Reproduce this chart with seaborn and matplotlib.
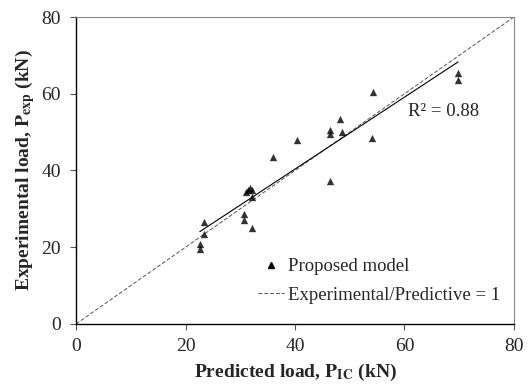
import numpy as np
import pandas as pd
import matplotlib
matplotlib.use("Agg")
import matplotlib.pyplot as plt
import seaborn as sns
from matplotlib.lines import Line2D

sns.set_style("white")
plt.rcParams['font.family'] = ['Liberation Serif', 'DejaVu Serif']
plt.rcParams['mathtext.fontset'] = 'stix'

predicted = [22.6, 22.6, 23.4, 23.4, 31.0, 31.5, 31.8, 32.1, 32.1, 30.7, 30.7, 32.1,
             36.0, 40.4, 46.4, 46.4, 46.4, 48.2, 48.6, 54.0, 54.2, 69.8, 69.8]
experimental = [20.8, 19.6, 26.6, 23.4, 34.4, 35.0, 35.4, 34.8, 33.0, 28.6, 27.1, 24.9,
                43.4, 47.9, 50.6, 49.6, 37.2, 53.5, 49.9, 48.4, 60.4, 65.3, 63.7]
r2_text = "R² = 0.88"
axis_min, axis_max = 0, 80

df = pd.DataFrame({"pred": predicted, "exp": experimental})

fig = plt.figure(figsize=(5.32, 3.87), dpi=100)
ax = fig.add_axes([0.143, 0.163, 0.823, 0.793])

ax.plot([axis_min, axis_max], [axis_min, axis_max], color='#555555', lw=0.7,
        ls=(0, (4, 2)), zorder=1)
sns.regplot(data=df, x="pred", y="exp", ax=ax, ci=None, truncate=True,
            marker='^', color='black',
            scatter_kws=dict(s=28, linewidths=0, zorder=3),
            line_kws=dict(color='black', lw=0.8, zorder=2))

ax.set_xlim(axis_min, axis_max)
ax.set_ylim(axis_min, axis_max)
ax.set_xticks(range(0, 81, 20))
ax.set_yticks(range(0, 81, 20))
ax.tick_params(axis='both', direction='out', length=4, width=0.8, color='#555555',
               labelsize=14, bottom=True, left=True)
ax.tick_params(axis='x', pad=6)
ax.tick_params(axis='y', pad=7)
ax.set_xlabel(r'Predicted load, $\mathbf{P_{IC}}$ (kN)', fontsize=14, fontweight='bold', labelpad=5)
ax.set_ylabel(r'Experimental load, $\mathbf{P_{exp}}$ (kN)', fontsize=14, fontweight='bold', labelpad=3)

for s in ['left', 'bottom']:
    ax.spines[s].set_color('black')
    ax.spines[s].set_linewidth(1.0)
for s in ['top', 'right']:
    ax.spines[s].set_color('#888888')
    ax.spines[s].set_linewidth(0.8)

ax.text(60.6, 55.3, r2_text, fontsize=13.5, va='center', ha='left')

handles = [Line2D([], [], marker='^', color='black', ls='none', markersize=5),
           Line2D([], [], color='#555555', lw=0.7, ls=(0, (4, 2)))]
fig.legend(handles, ['Proposed model', 'Experimental/Predictive = 1'],
           loc='upper left', bbox_to_anchor=(258/532, 1 - 258/387), frameon=False,
           fontsize=13.5, handlelength=1.4, handletextpad=0.2, labelspacing=0.6,
           borderpad=0, borderaxespad=0)

fig.savefig("out.png", dpi=100)
